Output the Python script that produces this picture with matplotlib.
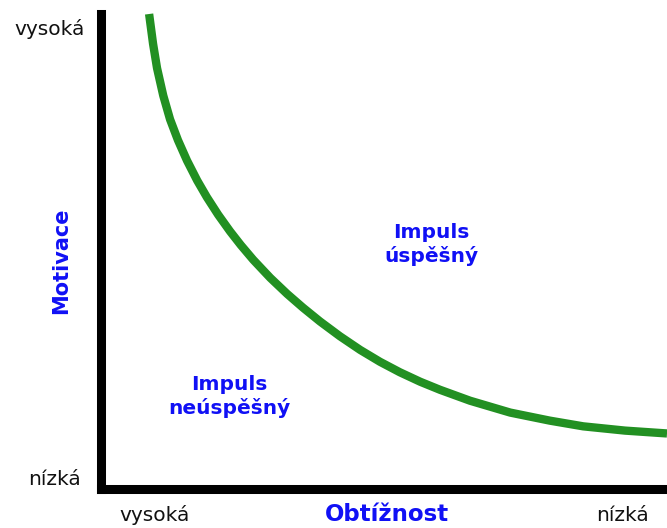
import matplotlib
matplotlib.use("Agg")
import matplotlib.pyplot as plt

W, H = 667, 528

# curve: difficulty (0 = high .. 100 = low), motivation (0 .. 100)
difficulty = [8.5, 9.2, 9.9, 11.0, 12.2, 13.6, 15.2, 17.0, 18.7, 20.7,
              22.8, 24.7, 26.9, 29.9, 32.9, 35.7, 38.7, 42.2, 45.8, 49.3,
              52.8, 56.4, 59.9, 65.2, 72.3, 79.3, 85.2, 92.6, 100.0]
motivation = [100.0, 93.7, 88.6, 82.8, 77.8, 73.4, 69.1, 64.9, 61.4, 57.7,
              54.2, 51.3, 48.2, 44.4, 41.0, 38.1, 35.2, 32.1, 29.2, 26.7,
              24.5, 22.5, 20.8, 18.5, 16.0, 14.3, 13.1, 12.2, 11.6]

x_ends = ["vysoká", "nízká"]
y_ends = ["nízká", "vysoká"]
x_title = "Obtížnost"
y_title = "Motivace"
zone_labels = ["Impuls\núspěšný", "Impuls\nneúspěšný"]

GREEN = "#229022"
BLUE = "#1010f5"

fig = plt.figure(figsize=(W / 100, H / 100), dpi=100)
ax = fig.add_axes([101 / W, (H - 488.5) / H, 566 / W, 474.5 / H])
ax.set_xlim(0, 100)
ax.set_ylim(0, 100)

for side in ["top", "right"]:
    ax.spines[side].set_visible(False)
for side in ["left", "bottom"]:
    ax.spines[side].set_linewidth(6.5)
    ax.spines[side].set_color("black")
ax.spines["bottom"].set_capstyle("projecting")
ax.set_xticks([])
ax.set_yticks([])

ax.plot(difficulty, motivation, color=GREEN, lw=6.0, clip_on=False,
        solid_capstyle="butt", solid_joinstyle="round")

# zone labels
ax.text(58.3, 51.5, zone_labels[0], color=BLUE, fontsize=14.5, weight="bold",
        ha="center", va="center", linespacing=1.25)
ax.text(22.6, 19.3, zone_labels[1], color=BLUE, fontsize=14.5, weight="bold",
        ha="center", va="center", linespacing=1.25)

# axis end labels
end_kw = dict(transform=ax.transAxes, fontsize=14.5, color="#111111",
              clip_on=False, ha="center", va="baseline")
ax.text(-0.090, 0.956, y_ends[1], **end_kw)
ax.text(-0.083, 0.007, y_ends[0], **end_kw)
ax.text(0.095, -0.0685, x_ends[0], **end_kw)
ax.text(0.922, -0.0685, x_ends[1], **end_kw)

ax.text(0.505, -0.0685, x_title, transform=ax.transAxes, fontsize=16.5,
        weight="bold", color=BLUE, ha="center", va="baseline", clip_on=False)
ax.text(-0.0707, 0.479, y_title, transform=ax.transAxes, fontsize=15,
        weight="bold", color=BLUE, ha="center", va="center", rotation=90,
        clip_on=False)

fig.savefig("out.png", dpi=100)
